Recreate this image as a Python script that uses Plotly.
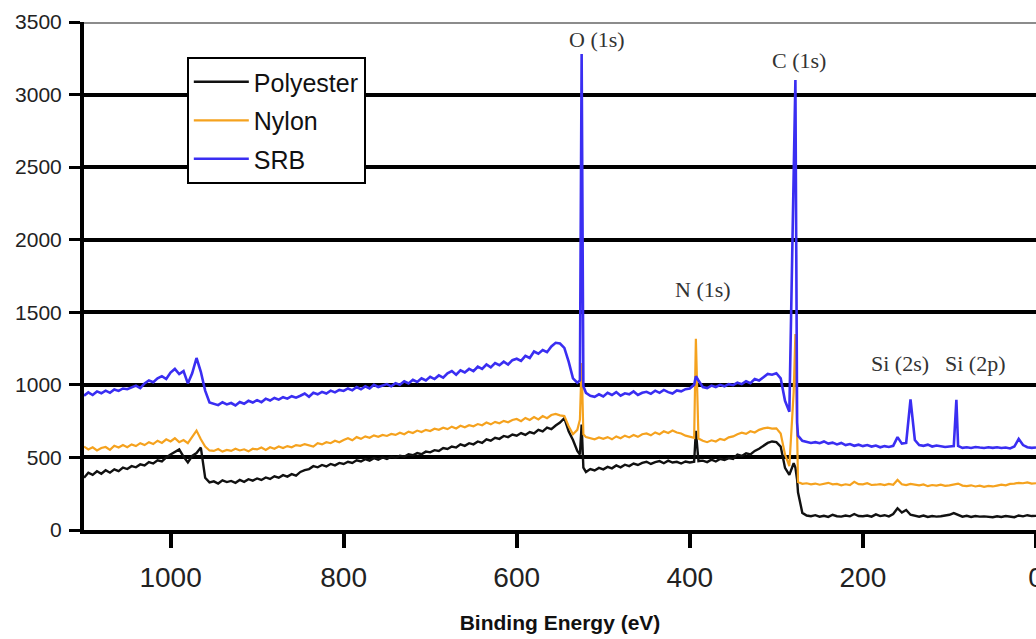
import plotly.graph_objects as go

# ---------------- data ----------------
# XPS survey spectra: intensity (counts) vs binding energy (eV), sampled every 5 eV
energy_base = list(range(1100, -1, -5))

polyester_base = [
    360, 395, 380, 405, 388, 412, 395, 418, 405, 430,    # 1100-1055
    420, 440, 432, 452, 445, 468, 458, 480, 472, 500,    # 1050-1005
    520, 540, 555, 505, 465, 510, 530, 568, 360, 328,    # 1000-955
    335, 320, 342, 330, 338, 325, 345, 332, 350, 340,    # 950-905
    355, 345, 362, 352, 370, 360, 378, 368, 385, 375,    # 900-855
    400, 412, 420, 440, 432, 448, 438, 455, 445, 462,    # 850-805
    455, 470, 462, 480, 472, 488, 478, 495, 485, 500,    # 800-755
    490, 505, 498, 512, 505, 522, 515, 530, 522, 540,    # 750-705
    535, 550, 545, 565, 558, 575, 568, 590, 580, 598,    # 700-655
    590, 610, 600, 625, 615, 635, 628, 648, 640, 658,    # 650-605
    650, 668, 655, 675, 665, 690, 680, 705, 695, 720,    # 600-555
    740, 770, 680, 620, 545, 727, 400, 420, 410, 428,    # 550-505
    418, 435, 425, 445, 432, 450, 440, 458, 448, 462,    # 500-455
    470, 455, 468, 475, 460, 478, 465, 470, 458, 472,    # 450-405
    465, 470, 475, 478, 468, 485, 472, 490, 482, 495,    # 400-355
    490, 520, 510, 528, 520, 545, 560, 580, 600, 610,    # 350-305
    605, 575, 428, 380, 460, 260, 118, 100, 95, 102,     # 300-255
    92, 98, 90, 105, 95, 92, 100, 94, 110, 96,           # 250-205
    95, 100, 92, 108, 96, 102, 94, 110, 150, 120,        # 200-155
    138, 105, 98, 92, 100, 90, 96, 92, 95, 100,          # 150-105
    105, 117, 100, 92, 98, 90, 96, 92, 94, 90,           # 100-55
    88, 95, 90, 96, 92, 88, 100, 94, 102, 96,            # 50-5
    97,                                                  # 0
]

nylon_base = [
    575, 555, 570, 548, 565, 572, 552, 580, 568, 585,
    570, 590, 578, 598, 585, 605, 592, 615, 600, 625,
    610, 632, 605, 620, 598, 640, 685, 625, 575, 548,
    545, 558, 540, 552, 545, 560, 548, 556, 542, 560,
    555, 568, 552, 570, 560, 575, 565, 578, 570, 585,
    580, 592, 585, 575, 598, 590, 605, 598, 615, 605,
    620, 632, 618, 640, 628, 645, 635, 652, 642, 655,
    648, 662, 655, 670, 660, 678, 668, 685, 675, 690,
    682, 698, 690, 705, 695, 712, 700, 718, 708, 722,
    715, 730, 722, 740, 728, 745, 735, 752, 742, 758,
    765, 750, 772, 758, 778, 762, 785, 770, 792, 800,
    790, 785, 715, 660, 690, 1150, 640, 632, 625, 638,
    628, 640, 625, 645, 632, 650, 638, 655, 642, 660,
    665, 652, 672, 660, 680, 668, 685, 672, 665, 650,
    645, 635, 630, 615, 605, 618, 610, 628, 620, 638,
    645, 660, 670, 662, 680, 672, 690, 700, 705, 698,
    700, 665, 520, 440, 950, 330, 318, 322, 315, 320,
    312, 320, 325, 315, 318, 308, 315, 310, 332, 316,
    314, 322, 310, 312, 316, 310, 318, 312, 345, 315,
    310, 318, 312, 308, 314, 302, 310, 306, 312, 304,
    308, 312, 320, 306, 302, 308, 300, 305, 298, 304,
    300, 306, 312, 308, 318, 320, 325, 322, 328, 320,
    322,
]

srb_base = [
    925, 948, 930, 955, 942, 960, 945, 968, 958, 975,
    970, 985, 995, 978, 1010, 1030, 1018, 1045, 1060, 1040,
    1085, 1110, 1075, 1095, 1010, 1080, 1185, 1090, 960, 878,
    870, 860, 880, 865, 875, 858, 882, 870, 890, 878,
    895, 880, 905, 892, 910, 898, 915, 905, 922, 912,
    925, 940, 918, 945, 935, 952, 940, 960, 948, 965,
    958, 975, 962, 985, 970, 990, 975, 1000, 985, 995,
    1005, 990, 1012, 1000, 1025, 1010, 1035, 1020, 1045, 1030,
    1055, 1040, 1065, 1050, 1080, 1095, 1070, 1100, 1085, 1110,
    1095, 1125, 1110, 1140, 1120, 1150, 1135, 1160, 1140, 1170,
    1180, 1165, 1200, 1185, 1230, 1215, 1240, 1225, 1265, 1290,
    1285, 1255, 1160, 1045, 1015, 3280, 945, 925, 918, 935,
    920, 945, 930, 950, 925, 942, 935, 955, 930, 945,
    952, 938, 960, 945, 965, 950, 940, 962, 955, 970,
    975, 1000, 1030, 985, 978, 995, 985, 1000, 990, 1005,
    998, 1015, 1005, 1025, 1012, 1040, 1030, 1055, 1075, 1070,
    1080, 1045, 890, 815, 2300, 650, 615, 608, 600, 605,
    598, 610, 595, 602, 590, 600, 585, 592, 580, 588,
    578, 585, 575, 582, 570, 578, 572, 580, 640, 595,
    600, 900, 620, 585, 580, 588, 575, 582, 578, 572,
    575, 578, 580, 566, 570, 565, 572, 568, 565, 570,
    566, 570, 565, 568, 562, 575, 628, 585, 570, 566,
    568,
]

# extra samples at the narrow photo-emission peaks
energy_extra = [527, 523, 393, 278, 276, 92]
polyester_extra = [520, 430, 683, 430, 345, 110]
nylon_extra = [760, 660, 1318, 1350, 400, 315]
srb_extra = [1030, 990, 1060, 3100, 740, 897]

series_names = ["Polyester", "Nylon", "SRB"]
series_colors = ["#111111", "#f5a21e", "#3a2ef2"]

x_tick_vals = [1000, 800, 600, 400, 200, 0]

peak_labels = ["O (1s)", "C (1s)", "N (1s)", "Si (2s)", "Si (2p)"]
peak_label_energy = [507, 274, 385, 157, 70]
peak_label_counts = [3379, 3238, 1660, 1145, 1145]


def merged(base, extra):
    pts = sorted(zip(energy_base + energy_extra, base + extra), key=lambda p: -p[0])
    return [p[0] for p in pts], [p[1] for p in pts]


fig = go.Figure()
for name, color, base, extra, width in zip(
    series_names,
    series_colors,
    [polyester_base, nylon_base, srb_base],
    [polyester_extra, nylon_extra, srb_extra],
    [2.4, 2.2, 2.6],
):
    xs, ys = merged(base, extra)
    fig.add_trace(
        go.Scatter(
            x=xs, y=ys, mode="lines", name=name, legendgroup=name,
            line=dict(color=color, width=width),
        )
    )

for text, ex, ey in zip(peak_labels, peak_label_energy, peak_label_counts):
    fig.add_annotation(
        x=ex, y=ey, xref="x", yref="y", text=text, showarrow=False,
        xanchor="center", yanchor="middle",
        font=dict(family="Liberation Serif, Times New Roman, serif", size=22, color="#333333"),
    )

# grey top border of the plot frame
fig.add_shape(
    type="line", xref="paper", yref="y", x0=0, x1=1, y0=3500, y1=3500,
    line=dict(color="#8c8c8c", width=4), layer="above",
)

fig.update_layout(
    width=1036, height=639,
    margin=dict(l=84, r=0, t=22, b=109),
    paper_bgcolor="white", plot_bgcolor="white",
    showlegend=True,
    legend=dict(
        x=0.108, y=0.931, xanchor="left", yanchor="top",
        bgcolor="white", bordercolor="black", borderwidth=2,
        font=dict(family="Liberation Sans, Arial, sans-serif", size=25, color="#111111"),
        tracegroupgap=3, itemwidth=55,
    ),
    xaxis=dict(
        range=[1100, 0], tickvals=x_tick_vals,
        showgrid=False, zeroline=False,
        showline=True, linecolor="black", linewidth=4,
        ticks="outside", ticklen=14, tickwidth=4, tickcolor="black",
        tickfont=dict(family="Liberation Sans, Arial, sans-serif", size=28, color="#222222"),
        ticklabelstandoff=5, ticklabeloverflow="allow",
        title=dict(
            text="<b>Binding Energy (eV)</b>", standoff=25,
            font=dict(family="Liberation Sans, Arial, sans-serif", size=21, color="#111111"),
        ),
        automargin=False,
    ),
    yaxis=dict(
        range=[0, 3500], tick0=0, dtick=500,
        showgrid=True, gridcolor="black", gridwidth=3.5,
        zeroline=False,
        showline=True, linecolor="black", linewidth=4,
        ticks="outside", ticklen=11, tickwidth=3, tickcolor="black",
        tickfont=dict(family="Liberation Sans, Arial, sans-serif", size=21, color="#222222"),
        ticklabelstandoff=3,
        automargin=False,
    ),
)

# remove the default page margin so the 1036x639 figure fills the window exactly
fig.write_html(
    "out.html",
    config={"displayModeBar": False},
    post_script="document.body.style.margin='0px';document.body.style.overflow='hidden';",
)
